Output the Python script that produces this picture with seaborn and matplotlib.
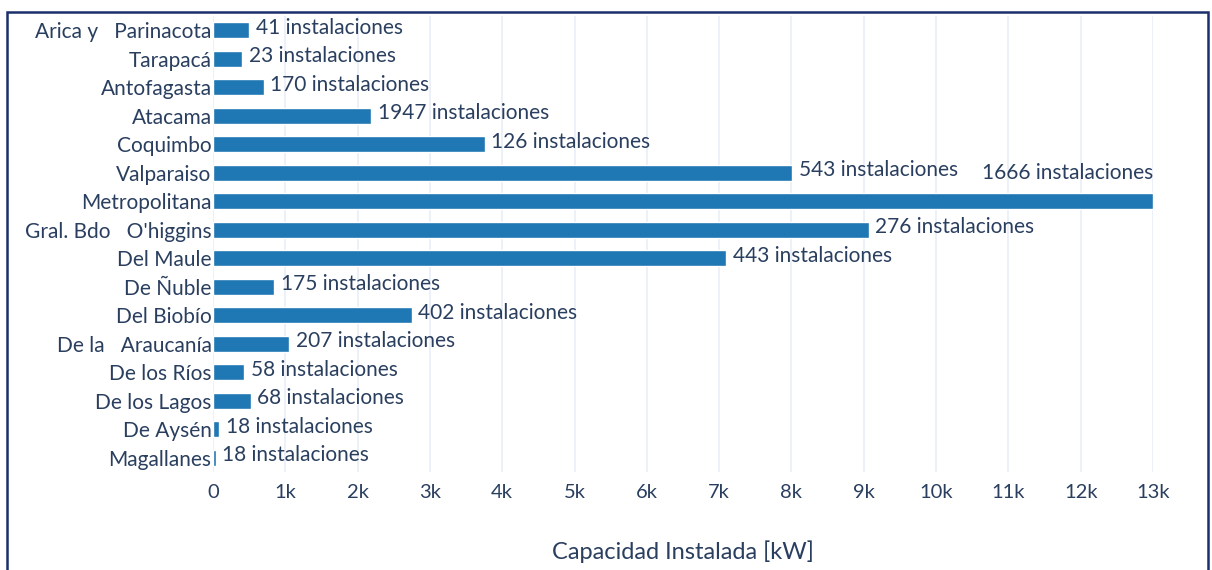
import numpy as np
import pandas as pd
import matplotlib
matplotlib.use("Agg")
import matplotlib.pyplot as plt
import seaborn as sns
from matplotlib.patches import Rectangle
from matplotlib.ticker import FuncFormatter, MultipleLocator

# ------------------------------
# Data
# ------------------------------
regiones = [
    "Arica y   Parinacota", "Tarapacá", "Antofagasta", "Atacama", "Coquimbo",
    "Valparaiso", "Metropolitana", "Gral. Bdo   O'higgins", "Del Maule",
    "De Ñuble", "Del Biobío", "De la   Araucanía", "De los Ríos",
    "De los Lagos", "De Aysén", "Magallanes",
]
capacidad_kw = [500, 405, 705, 2190, 3760, 8010, 13000, 9070, 7100,
                850, 2750, 1055, 430, 525, 85, 35]
instalaciones = [41, 23, 170, 1947, 126, 543, 1666, 276, 443,
                 175, 402, 207, 58, 68, 18, 18]

df = pd.DataFrame({"region": regiones, "kw": capacidad_kw, "n": instalaciones})

TEXT = "#2a3f5f"
BAR = "#1f77b4"
GRID = "#e9eef7"

sns.set_style("white")
plt.rcParams["font.family"] = ["Lato", "DejaVu Sans"]

fig = plt.figure(figsize=(12.12, 5.70), dpi=100)
ax = fig.add_axes([213 / 1212, 98 / 570, 940 / 1212, 456 / 570])

sns.barplot(data=df, x="kw", y="region", orient="h", color=BAR,
            saturation=1, width=0.56, ax=ax, zorder=3)

xmax = 13000
ax.set_xlim(0, xmax)
ax.set_ylim(len(df) - 0.5, -0.5)

# bar labels
for i, row in df.iterrows():
    txt = f"{row['n']} instalaciones"
    if row["kw"] >= xmax * 0.98:
        ax.text(row["kw"], i - 0.98, txt, ha="right", va="center",
                fontsize=15, color=TEXT)
    else:
        ax.text(row["kw"] + 90, i - 0.08, txt, ha="left", va="center",
                fontsize=15, color=TEXT)

# axes styling
ax.xaxis.set_major_locator(MultipleLocator(1000))
ax.xaxis.set_major_formatter(FuncFormatter(lambda v, p: "0" if v == 0 else f"{int(v/1000)}k"))
ax.grid(axis="x", color=GRID, linewidth=1.2, zorder=0)
ax.grid(axis="y", visible=False)
for s in ax.spines.values():
    s.set_visible(False)
ax.tick_params(axis="x", length=0, pad=9, labelsize=14.5, labelcolor=TEXT)
ax.tick_params(axis="y", length=0, pad=1, labelsize=15, labelcolor=TEXT)
ax.set_ylabel("")
ax.set_xlabel("Capacidad Instalada [kW]", fontsize=17, color=TEXT, labelpad=28)

# outer frame
frame = Rectangle((7 / 1212, -0.05), 1201 / 1212, 1.05 - 12 / 570,
                  transform=fig.transFigure, fill=False,
                  edgecolor="#1b2f6b", linewidth=1.8)
fig.patches.append(frame)

fig.savefig("out.png", dpi=100)
